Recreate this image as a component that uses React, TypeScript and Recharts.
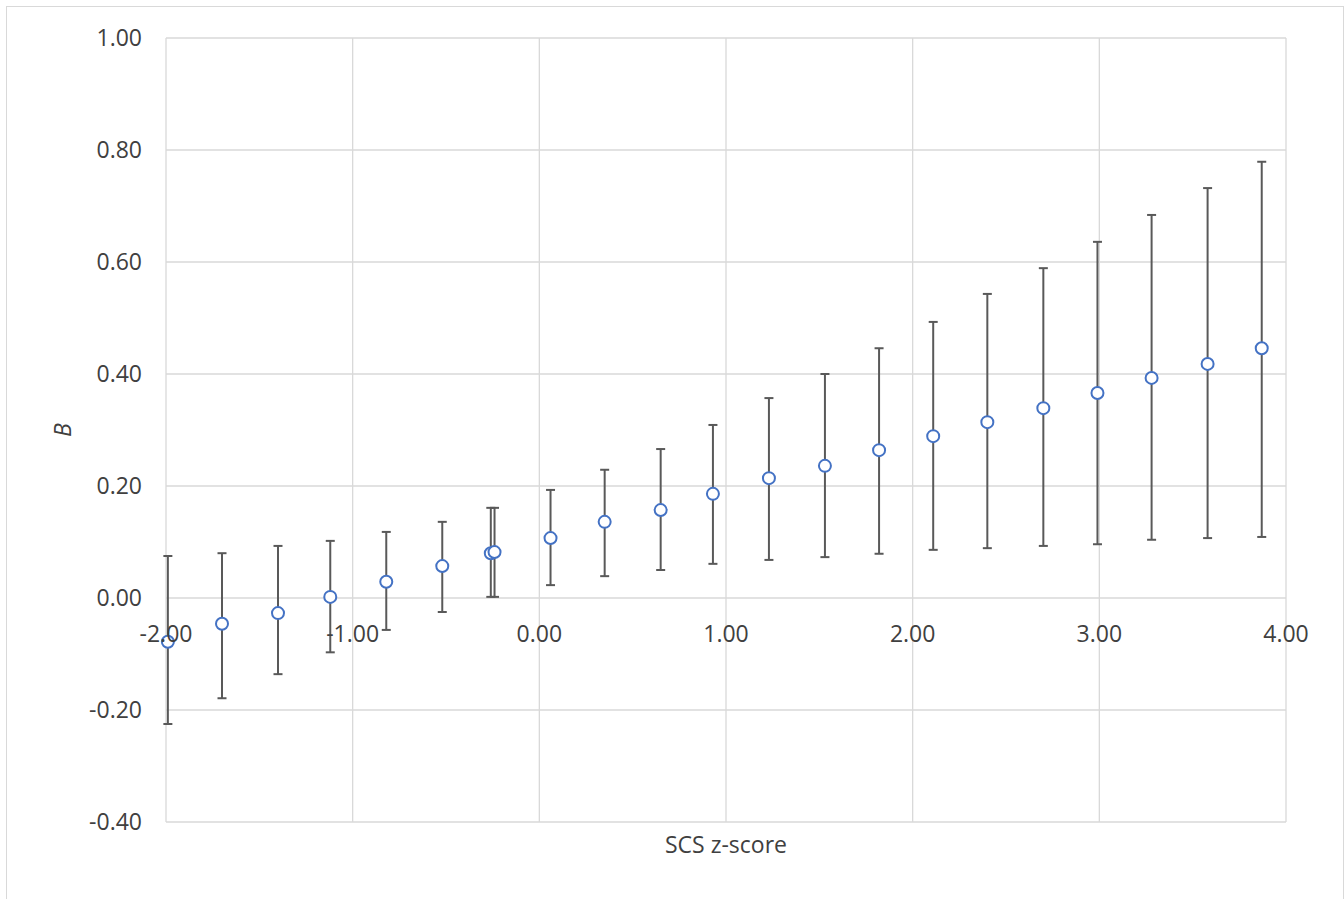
import React from 'react';
import { ScatterChart, Scatter, XAxis, YAxis, CartesianGrid, ErrorBar, Label } from 'recharts';

// SCS z-score (x), estimate B (y) and its confidence bounds
const zScores = [-1.99, -1.70, -1.40, -1.12, -0.82, -0.52, -0.26, -0.24, 0.06, 0.35, 0.65, 0.93, 1.23, 1.53, 1.82, 2.11, 2.40, 2.70, 2.99, 3.28, 3.58, 3.87];
const estimates = [-0.078, -0.046, -0.027, 0.002, 0.029, 0.057, 0.080, 0.082, 0.107, 0.136, 0.157, 0.186, 0.214, 0.236, 0.264, 0.289, 0.314, 0.339, 0.366, 0.393, 0.418, 0.446];
const lower = [-0.225, -0.179, -0.136, -0.097, -0.057, -0.025, 0.002, 0.002, 0.023, 0.039, 0.050, 0.061, 0.068, 0.073, 0.079, 0.086, 0.089, 0.093, 0.096, 0.104, 0.107, 0.109];
const upper = [0.075, 0.080, 0.093, 0.102, 0.118, 0.136, 0.161, 0.161, 0.193, 0.229, 0.266, 0.309, 0.357, 0.400, 0.446, 0.493, 0.543, 0.589, 0.636, 0.684, 0.732, 0.779];

const xTicks = [-2, -1, 0, 1, 2, 3, 4];
const yTicks = [-0.4, -0.2, 0, 0.2, 0.4, 0.6, 0.8, 1.0];

const points = zScores.map((x, i) => ({
  x,
  y: estimates[i],
  err: [estimates[i] - lower[i], upper[i] - estimates[i]],
}));

const FONT = '"Open Sans", sans-serif';
const TEXT = '#404040';
const GRID = '#d9d9d9';

const W = 1344;
const H = 899;
const margin = { top: 38, right: 58, bottom: 17, left: 36 };
const plotHeight = H - margin.top - margin.bottom - 60;
// x labels sit under the zero line, not under the plot bottom
const zeroShift = (plotHeight * (0 - yTicks[0])) / (yTicks[yTicks.length - 1] - yTicks[0]);

const XTick = (props: any) => {
  const { x, y, payload } = props;
  return (
    <text x={x} y={y - zeroShift + 44} textAnchor="middle" fill={TEXT} fontSize={23} fontFamily={FONT}>
      {Number(payload.value).toFixed(2)}
    </text>
  );
};

const YTitle = (props: any) => {
  const { viewBox } = props;
  const cx = viewBox.x + 26;
  const cy = viewBox.y + viewBox.height / 2;
  return (
    <text
      x={cx}
      y={cy}
      textAnchor="middle"
      dominantBaseline="central"
      transform={`rotate(-90, ${cx}, ${cy})`}
      fill={TEXT}
      fontSize={23}
      fontStyle="italic"
      fontFamily={FONT}
    >
      B
    </text>
  );
};

const Dot = (props: any) => {
  const { cx, cy } = props;
  return <circle cx={cx} cy={cy} r={6} fill="#ffffff" stroke="#4472C4" strokeWidth={2} />;
};

export default function App() {
  return (
    <div style={{ position: 'absolute', left: 0, top: 0, width: W, height: H, overflow: 'hidden', background: '#fff' }}>
      <div
        style={{
          position: 'absolute',
          left: 6,
          top: 6,
          width: 1336,
          height: 920,
          border: `1.5px solid ${GRID}`,
        }}
      />
      <ScatterChart width={W} height={H} margin={margin} style={{ position: 'absolute', left: 0, top: 0 }}>
        <CartesianGrid stroke={GRID} strokeWidth={1.3} />
        <XAxis
          type="number"
          dataKey="x"
          domain={[-2, 4]}
          ticks={xTicks}
          axisLine={false}
          tickLine={false}
          tickSize={0}
          tickMargin={0}
          height={60}
          tick={<XTick />}
          interval={0}
        >
          <Label
            value="SCS z-score"
            position="insideTop"
            offset={15}
            fill={TEXT}
            fontSize={23}
            fontFamily={FONT}
          />
        </XAxis>
        <YAxis
          type="number"
          dataKey="y"
          domain={[-0.4, 1]}
          ticks={yTicks}
          axisLine={false}
          tickLine={false}
          tickSize={0}
          tickMargin={24}
          width={130}
          interval={0}
          tickFormatter={(v: number) => v.toFixed(2)}
          tick={{ fill: TEXT, fontSize: 23, fontFamily: FONT }}
        >
          <Label content={<YTitle />} />
        </YAxis>
        <Scatter data={points} shape={<Dot />} isAnimationActive={false}>
          <ErrorBar dataKey="err" direction="y" stroke="#595959" strokeWidth={2} width={4.5} isAnimationActive={false} />
        </Scatter>
      </ScatterChart>
    </div>
  );
}
